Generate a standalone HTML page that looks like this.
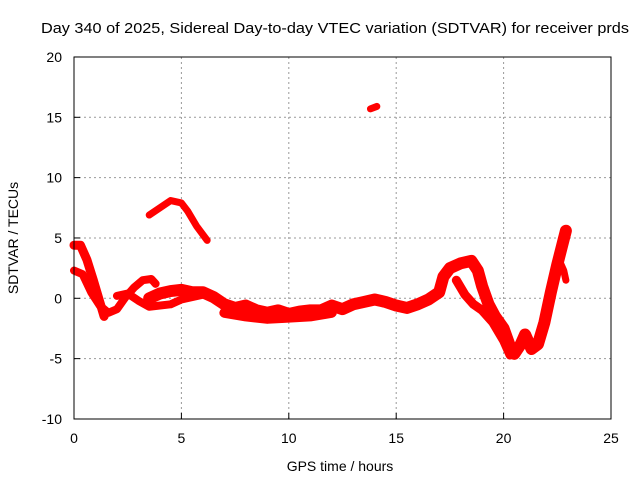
<!DOCTYPE html>
<html><head><meta charset="utf-8"><style>
body{margin:0;background:#fff}
svg text{font-family:"Liberation Sans",sans-serif;font-size:14px;fill:#000}
</style></head><body>
<svg id="chart" width="640" height="480" viewBox="0 0 640 480">
<rect width="640" height="480" fill="#fff"/>
<text x="335" y="33" text-anchor="middle" textLength="588" lengthAdjust="spacingAndGlyphs" style="font-size:15px">Day 340 of 2025, Sidereal Day-to-day VTEC variation (SDTVAR) for receiver prds</text>
<g id="grid"></g>
<g id="series"></g>
<rect x="74" y="57" width="537" height="362" fill="none" stroke="#000" stroke-width="1"/>
<g id="ticks"></g>
<text x="340" y="471" text-anchor="middle">GPS time / hours</text>
<text transform="translate(18,238) rotate(-90)" text-anchor="middle">SDTVAR / TECUs</text>
</svg>
<script>
const xTicks=[0,5,10,15,20,25];
const yTicks=[-10,-5,0,5,10,15,20];
const traceArcT=[3.5,4.0,4.5,5.0,5.3,5.7,6.2];
const traceArcV=[6.9,7.5,8.1,7.9,7.2,6.0,4.8];
const traceBlobT=[13.8,14.1];
const traceBlobV=[15.7,15.9];
const traceEarlyT=[0,0.3,0.6,0.9,1.2,1.4];
const traceEarlyV=[4.4,4.4,3.2,1.5,-0.3,-1.5];
const traceSecondT=[0,0.4,0.8,1.2,1.6,2.0,2.4,2.8,3.2,3.6,3.8];
const traceSecondV=[2.3,2.0,0.5,-0.6,-1.2,-0.9,0.1,0.9,1.5,1.6,1.2];
const traceThirdT=[2.0,2.5,3.0,3.5,4.5,5.0,6.0];
const traceThirdV=[0.2,0.4,-0.2,-0.7,-0.5,-0.1,0.3];
const traceMainT=[3.5,4,4.5,5,5.5,6,6.5,7,7.5,8,8.5,9,9.5,10,10.5,11,11.5,12,12.5,13,13.5,14,14.5,15,15.5,16,16.5,17,17.2,17.5,18,18.5,18.8,19,19.3,19.6,20,20.3,20.5,20.8,21.0,21.3,21.6,21.9,22.2,22.5,22.9];
const traceMainV=[0,0.4,0.6,0.7,0.5,0.5,0.1,-0.5,-0.8,-0.6,-1.0,-1.2,-1.0,-1.3,-1.1,-1.0,-1.0,-0.6,-0.9,-0.5,-0.3,-0.1,-0.3,-0.6,-0.8,-0.5,-0.1,0.5,1.8,2.5,2.9,3.1,2.3,1.0,-0.5,-1.5,-2.5,-4.0,-4.6,-3.8,-3.0,-4.2,-3.8,-2.0,0.5,2.8,5.6];
const traceLowT=[7,8,9,10,11,12];
const traceLowV=[-1.2,-1.5,-1.7,-1.6,-1.5,-1.2];
const traceLoopT=[17.8,18.2,18.6,19.0,19.5,20.0,20.3];
const traceLoopV=[1.5,0.3,-0.5,-1.0,-2.0,-3.5,-4.7];
const traceTailT=[22.5,22.8,22.9];
const traceTailV=[3.5,2.3,1.5];

const X=t=>74+t*537/25, Y=v=>298.3-v*362/30;
const NS="http://www.w3.org/2000/svg";
const grid=document.getElementById('grid'),ticks=document.getElementById('ticks'),ser=document.getElementById('series');
function mk(tag,attrs,parent){const e=document.createElementNS(NS,tag);for(const k in attrs)e.setAttribute(k,attrs[k]);parent.appendChild(e);return e;}
xTicks.forEach(t=>{
  if(t>0&&t<25){const g=mk('line',{x1:X(t),x2:X(t),y1:57,y2:419,stroke:'#999','stroke-dasharray':'2,3'},grid);
  
  }
  const l=mk('line',{x1:X(t),x2:X(t),y1:419,y2:413,stroke:'#000'},ticks);
  
  
  const tx=mk('text',{x:X(t),y:443,'text-anchor':'middle'},ticks);tx.textContent=t;
  
  
});
yTicks.forEach(v=>{
  if(v>-10&&v<20){const g=mk('line',{x1:74,x2:611,y1:Y(v),y2:Y(v),stroke:'#999','stroke-dasharray':'2,3'},grid);
  
  }
  const l=mk('line',{x1:74,x2:80,y1:Y(v),y2:Y(v),stroke:'#000'},ticks);
  
  
  const tx=mk('text',{x:62,y:Y(v)+5,'text-anchor':'end'},ticks);tx.textContent=v;
  
  
});
function trace(T,V,w,name){
  const p=mk('polyline',{points:T.map((t,i)=>X(t)+','+Y(V[i])).join(' '),fill:'none',stroke:'#f00','stroke-width':w,'stroke-linejoin':'round','stroke-linecap':'round'},ser);
  
  
}
trace(traceArcT,traceArcV,7,'trace-arc');
trace(traceBlobT,traceBlobV,7,'trace-blob');
trace(traceEarlyT,traceEarlyV,9,'trace-early');
trace(traceSecondT,traceSecondV,8,'trace-second');
trace(traceThirdT,traceThirdV,8,'trace-third');
trace(traceMainT,traceMainV,12,'trace-main');
trace(traceLowT,traceLowV,10,'trace-low');
trace(traceLoopT,traceLoopV,9,'trace-loop');
trace(traceTailT,traceTailV,7,'trace-tail');
</script>
</body></html>
